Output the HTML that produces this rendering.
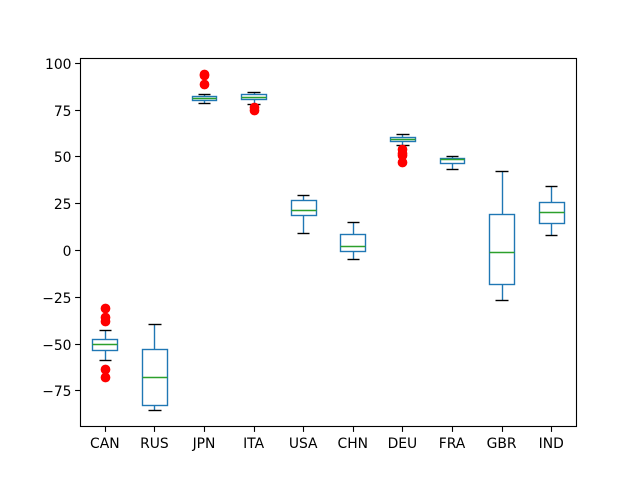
<!DOCTYPE html>
<html lang="en">
<head>
<meta charset="utf-8">
<title>Box plot</title>
<style>
html,body{margin:0;padding:0;background:#fff;width:640px;height:480px;overflow:hidden}
svg{display:block}
text{font-family:"DejaVu Sans","Liberation Sans",sans-serif;font-size:13.89px;fill:#000}
</style>
</head>
<body>
<svg id="chart" width="640" height="480" viewBox="0 0 640 480" xmlns="http://www.w3.org/2000/svg"></svg>
<script>
const categories = ["CAN","RUS","JPN","ITA","USA","CHN","DEU","FRA","GBR","IND"];
const whiskerHigh = [-42.8,-39.4,83.4,84.4,29.4,15,62,50.4,42.4,34.2];
const quartile3   = [-47.5,-52.9,82.5,83.2,26.6,8.6,60.4,49.2,19.3,25.7];
const medians     = [-50,-67.9,81.2,82,21.4,2,59.4,48.8,-1,20.3];
const quartile1   = [-53.4,-82.8,80,80.7,18.7,-0.7,58.3,46.5,-18,14.3];
const whiskerLow  = [-58.8,-85.5,78.6,78,9.1,-4.8,56.2,43.3,-26.7,8.1];
const outliers    = [[-31,-36,-37.8,-63.6,-68],[],[94,93.6,88.7],[76.3,75],[],[],[54.2,52,50.8,47],[],[],[]];
const yTicks = [100,75,50,25,0,-25,-50,-75];

const NS = "http://www.w3.org/2000/svg";
const svg = document.getElementById("chart");
const plot = {left:80.5,right:576.5,top:58.5,bottom:426.5};
function xScale(i){ return 80 + (i + 0.5) * 496 / categories.length; }
function yScale(v){ return 250.45 - 1.871 * v; }
function snapX(x){ return Math.floor(x + 0.5) + 0.5; }
function snapY(y){ return Math.floor(y) + 0.5; }
const boxW = 24.8, capW = 12.4;

function make(tag, attrs, parent){
  const el = document.createElementNS(NS, tag);
  for (const k in attrs) el.setAttribute(k, attrs[k]);
  (parent || svg).appendChild(el);
  return el;
}
function seg(x1,y1,x2,y2,color,w,parent){
  return make("line",{x1:x1,y1:y1,x2:x2,y2:y2,stroke:color,"stroke-width":w},parent);
}

const bg = make("rect",{x:0,y:0,width:640,height:480,fill:"#fff"});



categories.forEach(function(cat,i){
  const x = xScale(i);
  const cx = snapX(x);
  const boxL = snapX(x - boxW/2), boxR = snapX(x + boxW/2);
  const capL = snapX(x - capW/2), capR = snapX(x + capW/2);
  const yHigh = snapY(yScale(whiskerHigh[i])), yLow = snapY(yScale(whiskerLow[i]));
  const yQ3 = snapY(yScale(quartile3[i])), yQ1 = snapY(yScale(quartile1[i]));
  const yMed = snapY(yScale(medians[i]));
  const g = make("g",{});
  
  

  const wU = seg(cx,yQ3,cx,yHigh,"#1f77b4",1.39,g);
  
  

  const wL = seg(cx,yQ1,cx,yLow,"#1f77b4",1.39,g);
  
  

  const cU = seg(capL,yHigh,capR,yHigh,"#000",1.39,g);
  
  

  const cL = seg(capL,yLow,capR,yLow,"#000",1.39,g);
  
  

  const box = make("rect",{x:boxL,y:yQ3,width:boxR-boxL,height:yQ1-yQ3,fill:"none",stroke:"#1f77b4","stroke-width":1.39},g);
  
  

  const med = seg(boxL,yMed,boxR,yMed,"#2ca02c",1.39,g);
  
  

  outliers[i].forEach(function(v){
    const c = make("circle",{cx:cx,cy:snapY(yScale(v)),r:4.17,fill:"#f00",stroke:"#f00","stroke-width":1.39},g);
    
    
  });

  const tick = seg(cx,plot.bottom,cx,plot.bottom+5.4,"#000",1.11);
  
  

  const label = make("text",{x:x,y:448,"text-anchor":"middle"});
  label.textContent = cat;
  
  
});

yTicks.forEach(function(v){
  const y = snapY(yScale(v));
  const tick = seg(plot.left-5.4,y,plot.left,y,"#000",1.11);
  
  

  const label = make("text",{x:71.5,y:y+5.5,"text-anchor":"end"});
  label.textContent = String(v).replace("-", "\u2212");
  
  
});

const frame = make("rect",{x:plot.left,y:plot.top,width:plot.right-plot.left,height:plot.bottom-plot.top,fill:"none",stroke:"#000","stroke-width":1.11});


</script>
</body>
</html>
